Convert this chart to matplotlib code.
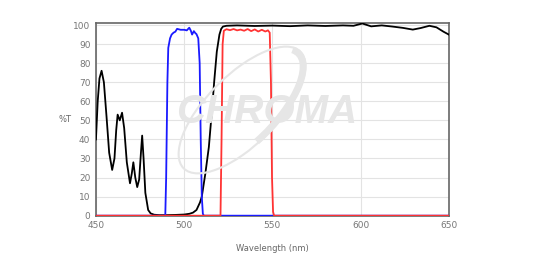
import matplotlib
matplotlib.use("Agg")
import matplotlib.pyplot as plt
from matplotlib.patches import Arc
import numpy as np

# ---------------- data ----------------
black_wl = [450, 451, 452, 453.2, 454.5, 456, 457.5, 459.2, 460.5, 461.5, 462.3,
            463.5, 464.8, 466, 467.5, 469.3, 470.3, 471.2, 472.3, 473.4, 474.5,
            475.5, 476.2, 477, 478, 479.6, 481, 483, 486, 490, 495, 500, 503,
            505, 507, 509, 510, 512, 514, 515, 516, 517, 518.5, 520, 521, 522,
            524, 530, 540, 550, 560, 570, 580, 590, 596, 601, 606, 612, 618,
            624, 629.6, 634, 639, 643, 647, 650]
black_t = [40, 60, 72, 76, 70, 52, 33, 24, 30, 45, 53,
           50, 54, 46, 28, 17, 22, 28, 20, 15, 19,
           33, 42, 30, 12, 3, 1.2, 0.5, 0.3, 0.3, 0.4, 0.6, 1.0,
           1.6, 3, 7, 10, 22, 36, 47, 58, 70, 86, 95, 98, 99.2,
           99.6, 99.8, 99.5, 99.7, 99.4, 99.8, 99.5, 99.8, 99.6, 100.8, 99.3, 99.8, 99.2,
           98.5, 97.6, 98.4, 99.6, 98.8, 96.5, 95.0]

blue_wl = [450, 489.3, 489.8, 490.5, 491, 492, 492.9, 494, 495, 496, 498, 500,
           501.5, 502.9, 503.8, 504.5, 505.5, 506.3, 507, 508, 508.8, 509.4,
           510, 510.6, 511.2, 650]
blue_t = [0, 0, 20, 70, 88, 93, 95, 96, 96.5, 98, 97.5, 97.5,
          97.2, 98.6, 97, 95, 96.8, 95.8, 95.2, 93, 80, 40,
          10, 1, 0, 0]

red_wl = [450, 520.6, 521.2, 521.8, 522.5, 524, 526, 528, 530, 532, 534, 536,
          538, 540, 542, 544, 546, 547.5, 548.5, 549.2, 549.8, 550.4, 551, 650]
red_t = [0, 0, 40, 90, 97, 97.8, 97.3, 97.9, 97.2, 97.6, 97.0, 97.9,
         96.8, 97.7, 96.6, 97.5, 96.6, 97.2, 96, 70, 20, 2, 0, 0]

x_ticks = [450, 500, 550, 600, 650]
y_ticks = [0, 10, 20, 30, 40, 50, 60, 70, 80, 90, 100]

# ---------------- figure ----------------
fig = plt.figure(figsize=(5.33, 2.64), dpi=100)
ax = fig.add_axes([0.180, 0.183, 0.662, 0.728])

plt.rcParams["font.family"] = ["Open Sans", "DejaVu Sans"]

# watermark (logo-like text + swoosh)
wm = "#e6e6e6"
fig.text(0.50, 0.575, "CHROMA", fontsize=29, fontweight="bold", style="italic",
         color=wm, ha="center", va="center", zorder=0,
         family=["Liberation Sans", "DejaVu Sans"])
fig.patches.append(Arc((242, 154), 165, 70, angle=45, theta1=0, theta2=360,
                       transform=None, color=wm, lw=1.5, zorder=0))
fig.patches.append(Arc((242, 154), 160, 66, angle=45, theta1=-110, theta2=5,
                       transform=None, color=wm, lw=5, zorder=0))

ax.set_facecolor("none")
ax.plot(black_wl, black_t, color="black", lw=1.3, zorder=3)
ax.plot(blue_wl, blue_t, color="#1a1aff", lw=1.3, zorder=4)
ax.plot(red_wl, red_t, color="#ff3333", lw=1.3, zorder=5)

ax.set_xlim(450, 650)
ax.set_ylim(0, 100.8)
ax.set_xticks(x_ticks)
ax.set_yticks(y_ticks)
ax.grid(True, color="#e3e3e3", lw=0.8)
ax.set_axisbelow(True)

for s in ax.spines.values():
    s.set_color("#666666")
    s.set_linewidth(1.2)

ax.tick_params(length=0, labelsize=6.5, labelcolor="#777777", pad=4)

ax.set_xlabel("Wavelength (nm)", fontsize=6, color="#666666", labelpad=10)
ax.set_ylabel("%T", fontsize=6, color="#666666", rotation=0, labelpad=6,
              va="center")

fig.savefig("out.png", dpi=100)
